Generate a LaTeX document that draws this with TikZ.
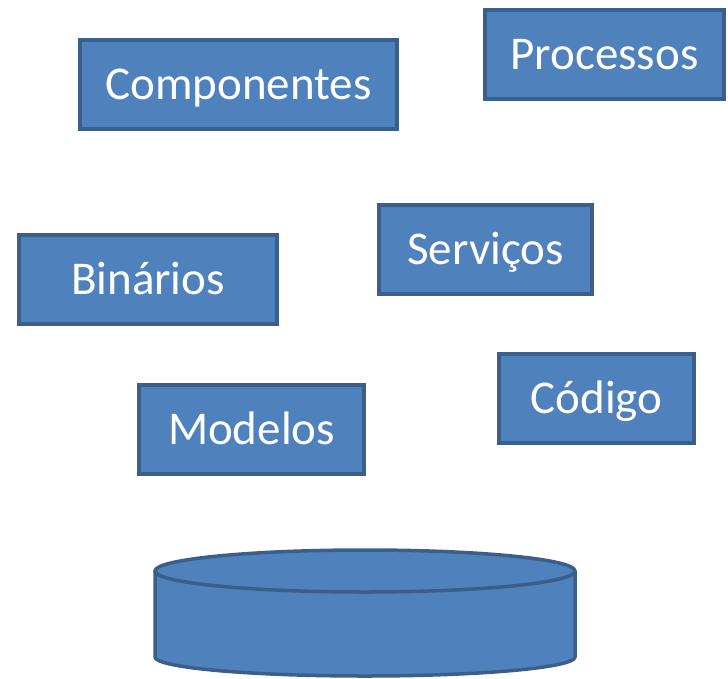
\documentclass[tikz,border=0pt]{standalone}
\usepackage{fontspec}
\setmainfont{Carlito}
\definecolor{boxfill}{HTML}{4F81BD}
\definecolor{boxline}{HTML}{3A5F8B}
\begin{document}
\begin{tikzpicture}[x=1pt,y=-1pt,
    box/.style={rectangle,draw=boxline,fill=boxfill,line width=3.5pt,minimum height=89pt,text height=33pt,text depth=3pt,text=white,font=\fontsize{47}{56}\selectfont}]
            \useasboundingbox (0,0) rectangle (728,678);

            \node[box,minimum width=317pt] (comp) at (238.5,84.5) {Componentes};
            \node[box,minimum width=239pt] (proc) at (604.5,54.5) {Processos};
            \node[box,minimum width=213pt] (serv) at (485.5,249.5) {Serviços};
            \node[box,minimum width=258pt] (bin) at (148,279.5) {Binários};
            \node[box,minimum width=225pt] (mod) at (251.5,429.5) {Modelos};
            \node[box,minimum width=195pt] (cod) at (596.5,398.5) {Código};

            \filldraw[draw=boxline,fill=boxfill,line width=3.5pt,line join=round]
                (155,571) -- (155,657) arc[start angle=180,end angle=0,x radius=210,y radius=19] -- (575,571) -- cycle;
            \filldraw[draw=boxline,fill=boxfill,line width=3.5pt] (365,571) ellipse[x radius=210,y radius=21];
        \end{tikzpicture}
\end{document}
